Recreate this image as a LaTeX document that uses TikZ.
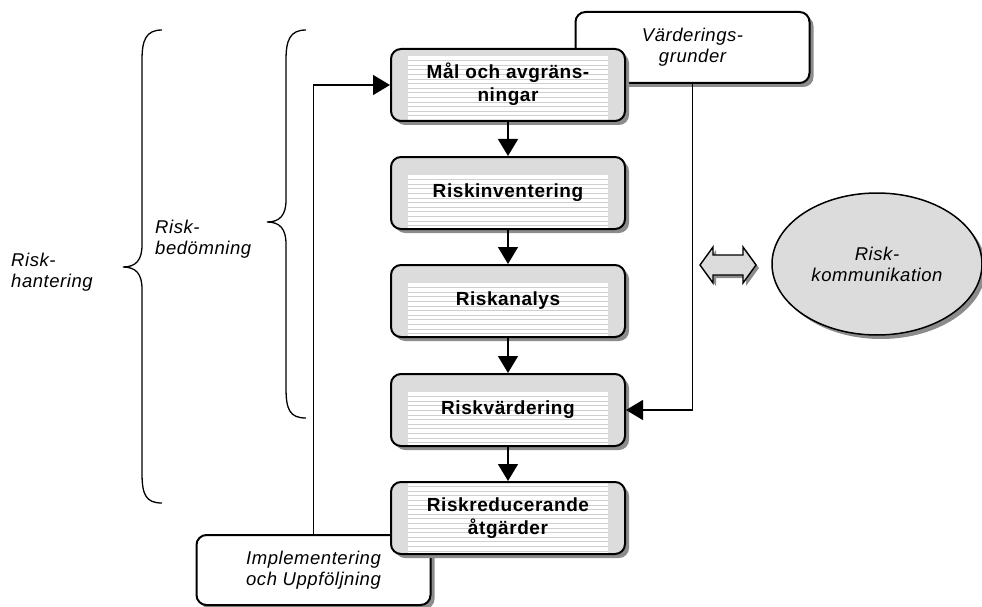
\documentclass[tikz,border=0pt]{standalone}
\usepackage{fontspec}
\setmainfont{Liberation Sans}[LetterSpace=3]
\usetikzlibrary{arrows.meta,shadows,shapes.geometric}
\definecolor{boxgray}{HTML}{DCDCDC}
\definecolor{stripegray}{HTML}{CFCFCF}
\definecolor{shadegray}{HTML}{8C8C8C}
\begin{document}
\begin{tikzpicture}[x=1pt,y=-1pt,
  boldtxt/.style={font=\bfseries\fontsize{19}{23}\selectfont},
  ittxt/.style={font=\itshape\fontsize{18.5}{21}\selectfont},
  shade box/.style={drop shadow={shadow xshift=4pt,shadow yshift=-4pt,fill=shadegray,opacity=1}},
  procbox/.style={draw,line width=2pt,rounded corners=10pt,fill=boxgray,
    minimum width=234pt,minimum height=72pt,inner sep=0pt,align=center,
    boldtxt,shade box,
    path picture={
      \fill[white,sharp corners]
        ([shift={(17pt,-#1)}]path picture bounding box.north west)
        rectangle ([xshift=-17pt]path picture bounding box.south east);
      \foreach \k in {1,...,16}{
        \draw[stripegray,line width=0.7pt,sharp corners]
          ([shift={(17pt,{-#1-\k*4.6pt})}]path picture bounding box.north west)
          -- ([shift={(-17pt,{-#1-\k*4.6pt})}]path picture bounding box.north east);
      }
    }},
  plainbox/.style={draw,line width=2pt,rounded corners=10pt,fill=white,
    minimum width=234pt,minimum height=71pt,inner sep=0pt,align=center,
    ittxt,shade box},
  arr/.style={line width=1.5pt,-{Triangle[width=20pt,length=17pt]}},
  brace/.style={line width=1.3pt},
  sidelabel/.style={ittxt,align=left,anchor=west,inner sep=0pt}
]
\useasboundingbox (0,0) rectangle (982,607);

% side boxes (drawn first so the process boxes overlap them)
\node[plainbox] (vg) at (692.5,47.5) {Värderings-\\grunder};
\node[plainbox,minimum height=70pt] (impl) at (313.5,570) {Implementering\\och Uppföljning};

% process chain
\node[procbox=7pt]  (b1) at (508,85)  {\raisebox{-3pt}{\begin{tabular}{@{}c@{}}Mål och avgräns-\\ningar\end{tabular}}};
\node[procbox=18pt] (b2) at (508,193) {\raisebox{-3pt}{Riskinventering}};
\node[procbox=18pt] (b3) at (508,301) {\raisebox{-3pt}{Riskanalys}};
\node[procbox=18pt] (b4) at (508,410) {\raisebox{-3pt}{Riskvärdering}};
\node[procbox=0pt]  (b5) at (508,518) {Riskreducerande\\åtgärder};

\draw[arr] (b1) -- (b2);
\draw[arr] (b2) -- (b3);
\draw[arr] (b3) -- (b4);
\draw[arr] (b4) -- (b5);

% feedback and valuation links
\draw[arr] (impl.north) |- (b1.west);
\draw[arr] (vg.south) |- (b4.east);

% communication
\node[ellipse,draw,line width=1.5pt,fill=boxgray,minimum width=210pt,minimum height=142pt,
      inner sep=0pt,align=center,ittxt,shade box] (rk) at (877,264) {Risk-\\kommunikation};

% two-headed exchange arrow
\fill[shadegray,shift={(3pt,-3pt)}] (700,265) -- (713,247) -- (713,255) -- (743,255) -- (743,247)
  -- (756,265) -- (743,283) -- (743,275) -- (713,275) -- (713,283) -- cycle;
\filldraw[fill=boxgray,line width=1.4pt,line join=miter] (700,265) -- (713,247) -- (713,255) -- (743,255) -- (743,247)
  -- (756,265) -- (743,283) -- (743,275) -- (713,275) -- (713,283) -- cycle;

% braces
\draw[brace] (162,30) .. controls (146,30) and (142,40) .. (142,60) -- (142,245)
  .. controls (142,260) and (136,267) .. (123,267)
  .. controls (136,267) and (142,274) .. (142,289) -- (142,473)
  .. controls (142,495) and (146,503) .. (162,503);
\draw[brace] (306,30) .. controls (290,30) and (286,40) .. (286,60) -- (286,200)
  .. controls (286,215) and (280,222) .. (267,222)
  .. controls (280,222) and (286,229) .. (286,244) -- (286,388)
  .. controls (286,410) and (290,418) .. (306,418);

\node[sidelabel] (lbd) at (155,239) {Risk-\\bedömning};
\node[sidelabel] (lht) at (11,272) {Risk-\\hantering};
\end{tikzpicture}
\end{document}
